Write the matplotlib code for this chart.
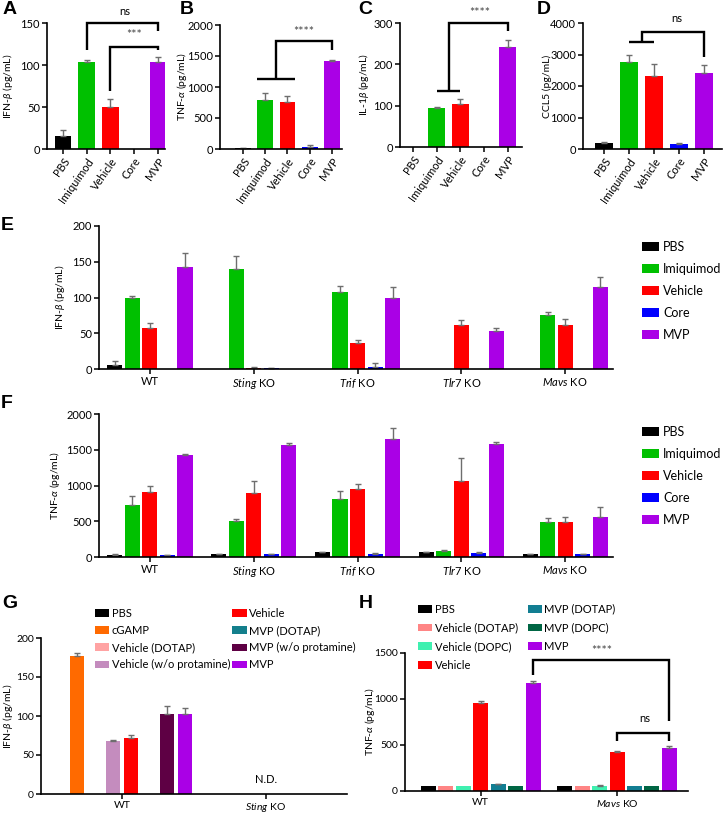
import numpy as np
import matplotlib.pyplot as plt

plt.rcParams['font.family'] = ['Lato', 'DejaVu Sans']
plt.rcParams['mathtext.fontset'] = 'custom'
plt.rcParams['mathtext.rm'] = 'Lato'
plt.rcParams['mathtext.it'] = 'Lato:italic'
plt.rcParams['mathtext.bf'] = 'Lato:bold'

W, H = 723, 814

# ---- data ----
treat = ["PBS", "Imiquimod", "Vehicle", "Core", "MVP"]
treat_colors = ["#000000", "#00c000", "#ff0000", "#0000ff", "#aa00e6"]

# A-D
ifnb_A = [15.5, 103, 50, 0, 104]
ifnb_A_err = [7.5, 3, 9, 0, 6]
tnfa_B = [15, 790, 763, 37, 1420]
tnfa_B_err = [8, 120, 97, 28, 15]
il1b_C = [0, 93.5, 103, 0, 243]
il1b_C_err = [0, 3, 13, 0, 17]
ccl5_D = [180, 2770, 2317, 160, 2422]
ccl5_D_err = [50, 230, 383, 40, 245]

# E-F, genotype order: WT, Sting, Trif, Tlr7, Mavs
geno_EF = ["WT", r"$\it{Sting}$ KO", r"$\it{Trif}$ KO", r"$\it{Tlr7}$ KO", r"$\it{Mavs}$ KO"]
ifnb_E = [[6, 0, 0, 0, 0],
          [99, 140, 107, 0, 75.5],
          [58, 1.5, 37, 61.5, 61.5],
          [0, 1, 3, 0, 0],
          [142.5, 0, 99, 53.5, 115]]
ifnb_E_err = [[4.5, 0, 0, 0, 0],
              [3.5, 18.5, 9, 0, 4.5],
              [7, 1.5, 3, 7, 8],
              [0, 1, 5, 0, 0],
              [19.5, 0, 15, 4.5, 14]]
tnfa_F = [[32, 35, 70, 70, 42],
          [730, 503, 810, 84, 494],
          [905, 893, 950, 1057, 494],
          [30, 35, 45, 56, 35],
          [1425, 1565, 1650, 1580, 564]]
tnfa_F_err = [[4, 4, 6, 6, 4],
              [130, 27, 120, 8, 51],
              [85, 173, 70, 328, 66],
              [4, 4, 5, 9, 4],
              [15, 30, 155, 23, 136]]

# G
geno_G = ["WT", r"$\it{Sting}$ KO"]
treat_G = ["PBS", "cGAMP", "Vehicle (DOTAP)", "Vehicle (w/o protamine)",
           "Vehicle", "MVP (DOTAP)", "MVP (w/o protamine)", "MVP"]
colors_G = ["#000000", "#ff6a00", "#ffa3a3", "#c48cbe",
            "#ff0000", "#137f8c", "#5e0044", "#aa00e6"]
ifnb_G = [[0, 0], [177.5, 0], [0, 0], [68, 0], [71.5, 0], [0, 0], [102.5, 0], [103, 0]]
ifnb_G_err = [[0, 0], [3, 0], [0, 0], [1.5, 0], [4.5, 0], [0, 0], [10.5, 0], [7, 0]]

# H
geno_H = ["WT", r"$\it{Mavs}$ KO"]
treat_H = ["PBS", "Vehicle (DOTAP)", "Vehicle (DOPC)", "Vehicle",
           "MVP (DOTAP)", "MVP (DOPC)", "MVP"]
colors_H = ["#000000", "#ff8585", "#3ff0b0", "#ff0000", "#127e92", "#006644", "#aa00e6"]
tnfa_H = [[58, 55], [58, 55], [58, 58], [955, 426], [73, 55], [58, 55], [1174, 470]]
tnfa_H_err = [[0, 0], [0, 0], [0, 3], [25, 4], [6, 0], [0, 0], [27, 14]]

ERR_COLOR = "#6e6e6e"
STAR_COLOR = "#444444"


def px_rect(x0, x1, ytop, ybot):
    return [x0 / W, 1 - ybot / H, (x1 - x0) / W, (ybot - ytop) / H]


def style_axes(ax, tick_fs):
    for s in ["top", "right"]:
        ax.spines[s].set_visible(False)
    for s in ["left", "bottom"]:
        ax.spines[s].set_linewidth(1.2)
    ax.tick_params(axis='both', width=1.1, length=3.5, labelsize=tick_fs, pad=1.5)


def errbars(ax, x, v, e):
    x = np.asarray(x, float)
    v = np.asarray(v, float)
    e = np.asarray(e, float)
    m = e > 0
    if m.any():
        ax.errorbar(x[m], v[m], yerr=[np.zeros(m.sum()), e[m]], fmt='none',
                    ecolor=ERR_COLOR, elinewidth=1.0, capsize=2.4, capthick=1.0)


def bracket(ax, xs, ys):
    ax.plot(xs, ys, color='black', lw=1.7, clip_on=False, solid_capstyle='butt',
            solid_joinstyle='miter')


fig = plt.figure(figsize=(W / 100, H / 100), dpi=100)

# ---- A-D ----
simple = [
    ("A", px_rect(47, 165, 23, 149), ifnb_A, ifnb_A_err, 150, [0, 50, 100, 150],
     r"IFN-$\beta$ (pg/mL)", (-0.67, 4.3), -0.27),
    ("B", px_rect(220, 342, 25, 149), tnfa_B, tnfa_B_err, 2000, [0, 500, 1000, 1500, 2000],
     r"TNF-$\alpha$ (pg/mL)", (-1.03, 4.45), -0.25),
    ("C", px_rect(400, 522, 23, 147), il1b_C, il1b_C_err, 300, [0, 100, 200, 300],
     r"IL-1$\beta$ (pg/mL)", (-0.55, 4.6), -0.234),
    ("D", px_rect(583, 722, 23, 149), ccl5_D, ccl5_D_err, 4000, [0, 1000, 2000, 3000, 4000],
     "CCL5 (pg/mL)", (-0.84, 4.72), -0.22),
]
axd = {}
for key, rect, vals, errs, ymax, yt, ylab, xl, lx in simple:
    ax = fig.add_axes(rect)
    x = np.arange(len(treat))
    ax.bar(x, vals, width=0.7, color=treat_colors)
    errbars(ax, x, vals, errs)
    ax.set_ylim(0, ymax)
    ax.set_yticks(yt)
    ax.set_xlim(*xl)
    ax.set_xticks(x)
    ax.set_xticklabels(treat, rotation=55, ha='right', rotation_mode='anchor')
    style_axes(ax, 8)
    ax.set_ylabel(ylab, fontsize=7.5)
    ax.yaxis.set_label_coords(lx, 0.5)
    axd[key] = ax

ax = axd["A"]
bracket(ax, [1, 1, 4, 4], [118, 150, 150, 141])
bracket(ax, [2, 2, 4, 4], [69, 122, 122, 118])
ax.text(2.6, 164, "ns", ha='center', va='center', fontsize=8)
ax.text(3.0, 136, "***", ha='center', va='center', fontsize=9, color=STAR_COLOR)

ax = axd["B"]
bracket(ax, [0.65, 2.35], [1125, 1125])
bracket(ax, [1.5, 1.5, 4, 4], [1125, 1750, 1750, 1600])
ax.text(2.75, 1880, "****", ha='center', va='center', fontsize=9, color=STAR_COLOR)

ax = axd["C"]
bracket(ax, [1, 2], [135, 135])
bracket(ax, [1.5, 1.5, 4, 4], [135, 300, 300, 280])
ax.text(2.8, 323, "****", ha='center', va='center', fontsize=9, color=STAR_COLOR)

ax = axd["D"]
bracket(ax, [1, 2], [3386, 3386])
bracket(ax, [1.5, 1.5, 4, 4], [3386, 3720, 3720, 2911])
ax.text(2.9, 4150, "ns", ha='center', va='center', fontsize=8)

# ---- E-F ----
grouped = [
    ("E", px_rect(99, 613, 226, 369), ifnb_E, ifnb_E_err, 200, [0, 50, 100, 150, 200],
     r"IFN-$\beta$ (pg/mL)", -0.062, 0.895),
    ("F", px_rect(99, 613, 414, 557), tnfa_F, tnfa_F_err, 2000, [0, 500, 1000, 1500, 2000],
     r"TNF-$\alpha$ (pg/mL)", -0.072, 0.915),
]
for key, rect, vals, errs, ymax, yt, ylab, lx, legy in grouped:
    ax = fig.add_axes(rect)
    xg = np.arange(len(geno_EF))
    for i, t in enumerate(treat):
        xs = xg + (i - 2) * 0.169
        ax.bar(xs, vals[i], width=0.145, color=treat_colors[i], label=t)
        errbars(ax, xs, vals[i], errs[i])
    ax.set_ylim(0, ymax)
    ax.set_yticks(yt)
    ax.set_xlim(-0.49, 4.46)
    ax.set_xticks(xg)
    ax.set_xticklabels(geno_EF)
    style_axes(ax, 8)
    ax.set_ylabel(ylab, fontsize=7.5)
    ax.yaxis.set_label_coords(lx, 0.5)
    ax.legend(loc='upper left', bbox_to_anchor=(1.056, legy), frameon=False, fontsize=9,
              borderpad=0, borderaxespad=0, labelspacing=0.8, handlelength=1.4,
              handletextpad=0.3)

# ---- G ----
axG = fig.add_axes(px_rect(41, 347, 638, 794))
xg = np.arange(len(geno_G))
for i, t in enumerate(treat_G):
    xs = xg + (i - 3.5) * 0.125
    axG.bar(xs, ifnb_G[i], width=0.104, color=colors_G[i], label=t)
    errbars(axG, xs, ifnb_G[i], ifnb_G_err[i])
axG.set_ylim(0, 200)
axG.set_yticks([0, 50, 100, 150, 200])
axG.set_xlim(-0.5625, 1.5625)
axG.set_xticks(xg)
axG.set_xticklabels(geno_G)
style_axes(axG, 7.5)
axG.set_ylabel(r"IFN-$\beta$ (pg/mL)", fontsize=7.5)
axG.yaxis.set_label_coords(-0.085, 0.5)
axG.text(1, 18, "N.D.", ha='center', va='center', fontsize=8)
axG.legend(loc='upper left', bbox_to_anchor=(0.176, 1.192), ncol=2, frameon=False, fontsize=8,
           borderpad=0, borderaxespad=0, labelspacing=0.55, handlelength=1.3,
           handletextpad=0.2, columnspacing=0.2)

# ---- H ----
axH = fig.add_axes(px_rect(405, 688, 653, 791))
xg = np.arange(len(geno_H))
for i, t in enumerate(treat_H):
    xs = xg + (i - 3) * 0.128
    axH.bar(xs, tnfa_H[i], width=0.11, color=colors_H[i], label=t)
    errbars(axH, xs, tnfa_H[i], tnfa_H_err[i])
axH.set_ylim(0, 1500)
axH.set_yticks([0, 500, 1000, 1500])
axH.set_xlim(-0.555, 1.52)
axH.set_xticks(xg)
axH.set_xticklabels(geno_H)
style_axes(axH, 7.5)
axH.set_ylabel(r"TNF-$\alpha$ (pg/mL)", fontsize=7.5)
axH.yaxis.set_label_coords(-0.1, 0.5)
bracket(axH, [0.384, 0.384, 1.384, 1.384], [1264, 1420, 1420, 762])
bracket(axH, [1.0, 1.0, 1.384, 1.384], [546, 634, 634, 546])
axH.text(0.89, 1520, "****", ha='center', va='center', fontsize=9, color=STAR_COLOR)
axH.text(1.2, 783, "ns", ha='center', va='center', fontsize=8)
axH.legend(loc='upper left', bbox_to_anchor=(0.046, 1.358), ncol=2, frameon=False, fontsize=8,
           borderpad=0, borderaxespad=0, labelspacing=0.7, handlelength=1.3,
           handletextpad=0.2, columnspacing=0.9)

# ---- panel letters ----
letters = [("A", 10, 10), ("B", 187, 10), ("C", 365, 10), ("D", 544, 10),
           ("E", 7, 225), ("F", 7, 403), ("G", 10, 603), ("H", 366, 604)]
for s, x, y in letters:
    fig.text(x / W, 1 - y / H, s, fontsize=14, fontweight='bold', family='Liberation Sans',
             ha='center', va='center')

fig.savefig("out.png", dpi=100, facecolor='white')
